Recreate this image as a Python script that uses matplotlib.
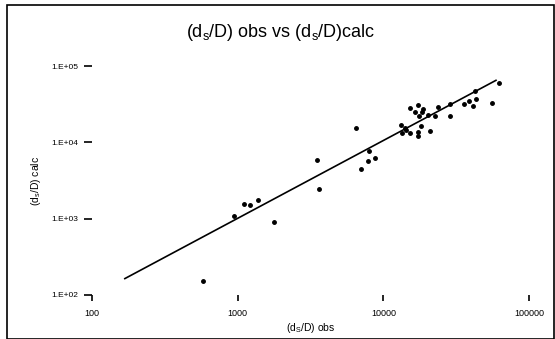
#!/usr/bin/env python3
"Scatter of observed vs calculated ds/D on log-log axes"

import matplotlib
matplotlib.use("Agg")
import matplotlib.pyplot as plt
from matplotlib import patches

plt.rcParams['font.family'] = ['Liberation Sans', 'DejaVu Sans']
plt.rcParams['mathtext.fontset'] = 'custom'
plt.rcParams['mathtext.rm'] = 'Liberation Sans'
plt.rcParams['mathtext.it'] = 'Liberation Sans'

# observed / calculated (ds/D) values
obs = [580, 950, 1100, 1210, 1380, 1770, 3520, 3630, 6490, 6990, 7840,
       8000, 8750, 13200, 13500, 14100, 14400, 15300, 15200, 16400, 17300,
       17200, 17200, 17500, 18300, 18800, 18100, 20300, 20900, 22700,
       23600, 28700, 28700, 35900, 38900, 41000, 43200, 42500, 55600, 61800]
calc = [154, 1100, 1570, 1530, 1730, 906, 5850, 2460, 15400, 4510, 5680,
        7690, 6290, 17100, 13100, 15600, 14400, 13400, 28300, 24800, 30700,
        13700, 12100, 21800, 24600, 27700, 16400, 22700, 14100, 21800,
        28900, 31600, 22400, 31900, 34600, 29800, 37200, 47300, 32300, 59200]

# fitted line end points
fit_x = [168, 59300]
fit_y = [164, 64900]

x_ticks = [100, 1000, 10000, 100000]
x_labels = ['100', '1000', '10000', '100000']
y_ticks = [100, 1000, 10000, 100000]
y_labels = ['1.E+02', '1.E+03', '1.E+04', '1.E+05']


def main():
    "Main function"
    fig = plt.figure(figsize=(5.55, 3.39), dpi=100)
    axes = fig.add_axes([0.1658, 0.1298, 0.7874, 0.6755])

    axes.plot(fit_x, fit_y, color='black', linewidth=1.2)
    axes.plot(obs, calc, 'o', color='black', markersize=2.5)

    axes.set_xscale('log')
    axes.set_yscale('log')
    axes.set_xlim(100, 100000)
    axes.set_ylim(100, 100000)
    axes.minorticks_off()

    for spine in axes.spines.values():
        spine.set_visible(False)

    axes.set_xticks(x_ticks)
    axes.set_xticklabels(x_labels, fontsize=6.5)
    axes.set_yticks(y_ticks)
    axes.set_yticklabels(y_labels, fontsize=6)
    axes.tick_params(axis='x', length=4, width=1.2, pad=6)
    axes.tick_params(axis='y', length=6, width=1.2, pad=4)

    axes.set_xlabel('(d$_S$/D) obs', fontsize=7.5, labelpad=2)
    axes.set_ylabel('(d$_s$/D) calc', fontsize=7.5, labelpad=6)

    fig.text(0.505, 0.905, '(d$_s$/D) obs vs (d$_s$/D)calc',
             fontsize=13, ha='center', va='center')

    # border around the whole picture
    fig.add_artist(patches.Rectangle(
        (0.012, 0.0), 0.986, 0.985, transform=fig.transFigure,
        fill=False, edgecolor='black', linewidth=1.2))

    fig.savefig('out.png', dpi=100)


if __name__ == "__main__":
    main()
